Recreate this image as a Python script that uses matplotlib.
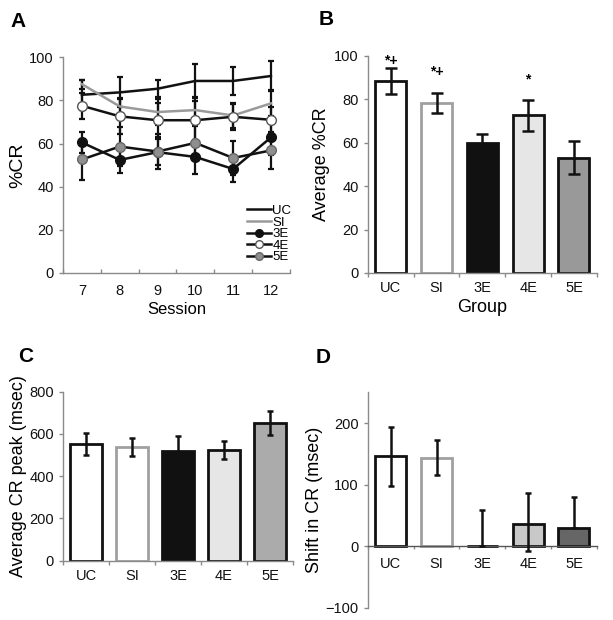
import matplotlib
matplotlib.use("Agg")
import matplotlib.pyplot as plt
from matplotlib.lines import Line2D
import numpy as np

plt.rcParams['font.family'] = ['Liberation Sans', 'DejaVu Sans']

# ---- Panel A data ----
sessions = [7, 8, 9, 10, 11, 12]
uc_a = [82.6, 83.7, 85.4, 89.0, 89.0, 91.3]
uc_a_err = [7, 7, 4, 8, 6.5, 7]
si_a = [87.5, 77.2, 74.6, 75.5, 73.0, 78.6]
si_a_err = [2, 4, 6, 6, 6, 6]
e3_a = [60.5, 52.4, 56.0, 53.8, 48.2, 62.8]
e3_a_err = [5, 6, 6, 8, 6, 8]
e4_a = [77.5, 72.6, 70.8, 70.8, 72.4, 71.0]
e4_a_err = [6, 8, 8, 9, 6, 6]
e5_a = [52.6, 58.6, 56.3, 60.3, 53.3, 56.8]
e5_a_err = [9.5, 9, 8, 8, 8, 8.5]

# ---- Panel B data ----
groups = ['UC', 'SI', '3E', '4E', '5E']
avg_cr = [88.5, 78.3, 59.7, 72.6, 53.0]
avg_cr_err = [5.8, 4.7, 4.3, 7.0, 7.6]
b_annot = ['*+', '*+', '', '*', '']

# ---- Panel C data ----
cr_peak = [553, 539, 521, 523, 650]
cr_peak_err = [52, 44, 70, 43, 57]

# ---- Panel D data ----
cr_shift = [146, 144, 0, 37, 30]
cr_shift_err_low = [48, 28, 0, 45, 0]
cr_shift_err_high = [48, 28, 59, 50, 50]

fig = plt.figure(figsize=(6.13, 6.2), dpi=100)

spine_col = '#8a8a8a'
tick_fs = 10.5
lab_fs = 12

def style_ax(ax):
    for s in ['top', 'right']:
        ax.spines[s].set_visible(False)
    for s in ['left', 'bottom']:
        ax.spines[s].set_color(spine_col)
        ax.spines[s].set_linewidth(1.0)
    ax.tick_params(axis='both', colors=spine_col, labelcolor='#111111',
                   labelsize=tick_fs, length=3, width=1)

def group_xaxis(ax, x, pad=6):
    ax.set_xlim(-0.5, 4.5)
    ax.set_xticks([-0.5, 0.5, 1.5, 2.5, 3.5, 4.5])
    ax.set_xticklabels([])
    ax.set_xticks(x, minor=True)
    ax.set_xticklabels(groups, minor=True)
    ax.tick_params(axis='x', which='minor', length=0, labelsize=tick_fs,
                   labelcolor='#111111', pad=pad)
    ax.tick_params(axis='x', which='major', length=3)

letter_fs = 15

# ---- A ----
axA = fig.add_axes([0.1028, 0.5597, 0.370, 0.348])
style_ax(axA)
lw = 1.8
ekw = dict(capsize=2.5, elinewidth=1.6, capthick=1.6, ecolor='#111111')
axA.errorbar(sessions, uc_a, yerr=uc_a_err, color='#111111', lw=lw, **ekw)
axA.errorbar(sessions, si_a, yerr=si_a_err, color='#9a9a9a', lw=lw, **ekw)
axA.errorbar(sessions, e3_a, yerr=e3_a_err, color='#111111', lw=lw,
             marker='o', ms=7, mfc='#111111', mec='#111111', **ekw)
axA.errorbar(sessions, e4_a, yerr=e4_a_err, color='#111111', lw=lw,
             marker='o', ms=7, mfc='white', mec='#555555', **ekw)
axA.errorbar(sessions, e5_a, yerr=e5_a_err, color='#111111', lw=lw,
             marker='o', ms=7, mfc='#8f8f8f', mec='#666666', **ekw)
axA.set_xlim(6.5, 12.5)
axA.set_ylim(0, 100)
axA.set_yticks([0, 20, 40, 60, 80, 100])
axA.set_xticks([6.5, 7.5, 8.5, 9.5, 10.5, 11.5, 12.5])
axA.set_xticklabels([])
axA.set_xticks(sessions, minor=True)
axA.set_xticklabels([str(s) for s in sessions], minor=True)
axA.tick_params(axis='x', which='minor', length=0, labelsize=tick_fs,
                labelcolor='#111111', pad=8)
axA.tick_params(axis='x', which='major', direction='in', length=3)
axA.set_xlabel('Session', fontsize=lab_fs, labelpad=3)
axA.set_ylabel('%CR', fontsize=lab_fs + 2, labelpad=2)
handles = [
    Line2D([], [], color='#111111', lw=1.8),
    Line2D([], [], color='#9a9a9a', lw=1.8),
    Line2D([], [], color='#111111', lw=1.8, marker='o', ms=5.5, mfc='#111111', mec='#111111'),
    Line2D([], [], color='#111111', lw=1.8, marker='o', ms=5.5, mfc='white', mec='#555555'),
    Line2D([], [], color='#111111', lw=1.8, marker='o', ms=5.5, mfc='#8f8f8f', mec='#666666'),
]
axA.legend(handles, ['UC', 'SI', '3E', '4E', '5E'], loc='lower right', frameon=False,
           fontsize=9.5, handlelength=1.8, handletextpad=0.1, labelspacing=-0.05,
           borderaxespad=0.0, bbox_to_anchor=(1.03, 0.02))
fig.text(10 / 613, 1 - 27 / 620, 'A', fontsize=letter_fs, fontweight='bold')

# ---- B ----
fillB = ['white', 'white', '#111111', '#e6e6e6', '#999999']
edgeB = ['#111111', '#a0a0a0', '#111111', '#111111', '#111111']
axB = fig.add_axes([0.600, 0.5597, 0.3736, 0.350])
style_ax(axB)
x = np.arange(len(groups))
axB.bar(x, avg_cr, width=0.68, color=fillB, edgecolor=edgeB, linewidth=2, zorder=2)
axB.errorbar(x, avg_cr, yerr=avg_cr_err, fmt='none', ecolor='#111111', elinewidth=1.8,
             capsize=4, capthick=1.8, zorder=3)
annot_offset = [3.5, 9.5, 0, 9.5, 0]
for xi, v, e, t, o in zip(x, avg_cr, avg_cr_err, b_annot, annot_offset):
    if t:
        axB.text(xi, v + e + o, t, ha='center', va='center', fontsize=10, fontweight='bold')
axB.set_ylim(0, 100)
axB.set_yticks([0, 20, 40, 60, 80, 100])
group_xaxis(axB, x)
axB.set_xlabel('Group', fontsize=lab_fs + 1, labelpad=3)
axB.set_ylabel('Average %CR', fontsize=lab_fs + 1, labelpad=3)
fig.text(319 / 613, 1 - 25 / 620, 'B', fontsize=letter_fs, fontweight='bold')

# ---- C ----
fillC = ['white', 'white', '#111111', '#e6e6e6', '#ababab']
edgeC = ['#111111', '#a0a0a0', '#111111', '#111111', '#111111']
axC = fig.add_axes([0.1028, 0.0956, 0.375, 0.2726])
style_ax(axC)
axC.bar(x, cr_peak, width=0.7, color=fillC, edgecolor=edgeC, linewidth=2, zorder=2)
axC.errorbar(x, cr_peak, yerr=cr_peak_err, fmt='none', ecolor='#111111', elinewidth=1.8,
             capsize=2, capthick=1.8, zorder=3)
axC.set_ylim(0, 800)
axC.set_yticks([0, 200, 400, 600, 800])
group_xaxis(axC, x)
axC.set_ylabel('Average CR peak (msec)', fontsize=lab_fs + 1, labelpad=2)
fig.text(18 / 613, 1 - 362 / 620, 'C', fontsize=letter_fs, fontweight='bold')

# ---- D ----
fillD = ['white', 'white', '#111111', '#c8c8c8', '#666666']
edgeD = ['#111111', '#a0a0a0', '#111111', '#111111', '#111111']
axD = fig.add_axes([0.600, 0.0194, 0.3736, 0.348])
style_ax(axD)
axD.bar(x, cr_shift, width=0.68, color=fillD, edgecolor=edgeD, linewidth=2, zorder=2)
axD.errorbar(x, cr_shift, yerr=[cr_shift_err_low, cr_shift_err_high], fmt='none',
             ecolor='#111111', elinewidth=1.8, capsize=2, capthick=1.8, zorder=3)
axD.spines['bottom'].set_position(('data', 0))
axD.spines['bottom'].set_color('#555555')
axD.set_ylim(-100, 250)
axD.set_yticks([-100, 0, 100, 200])
group_xaxis(axD, x, pad=8)
axD.tick_params(axis='x', which='major', length=2)
axD.set_ylabel('Shift in CR (msec)', fontsize=lab_fs + 1, labelpad=2)
fig.text(316 / 613, 1 - 363 / 620, 'D', fontsize=letter_fs, fontweight='bold')

fig.savefig('out.png', dpi=100, facecolor='white')
